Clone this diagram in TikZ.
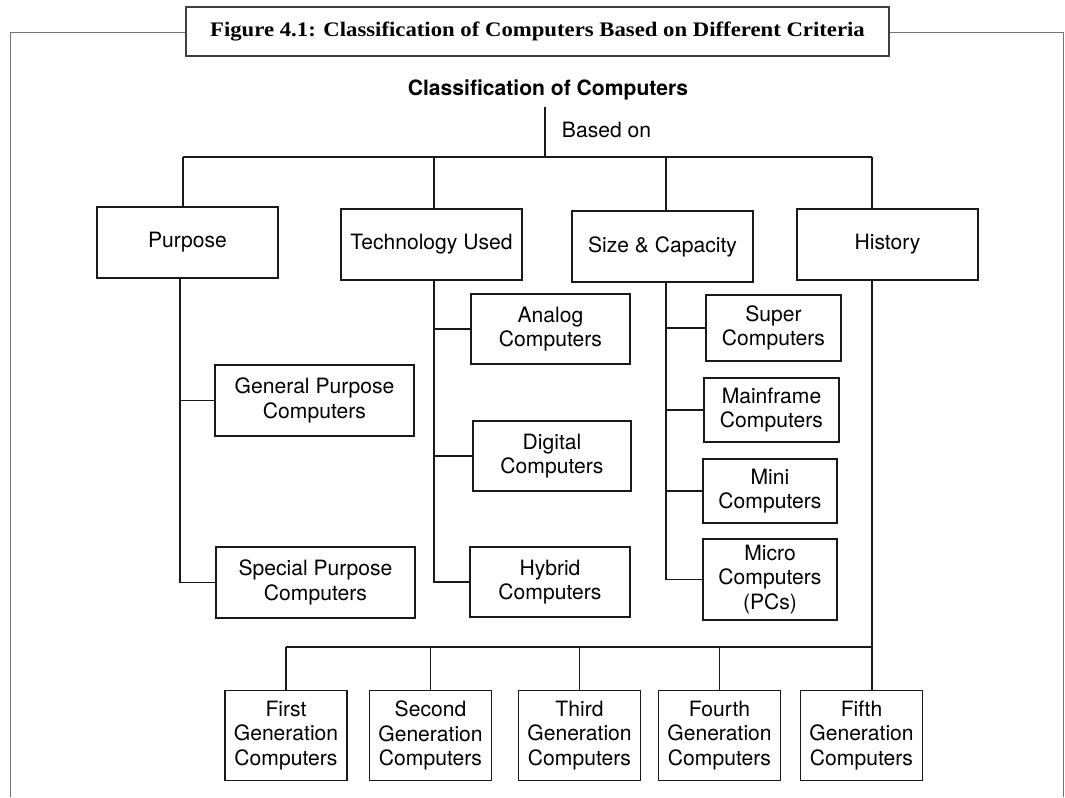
\documentclass[tikz,border=0pt]{standalone}
\usepackage{fontspec}
\setmainfont{TeX Gyre Heros}
\newfontfamily\figfont[FakeStretch=1.1]{Liberation Serif}
\newcommand{\px}{0.025cm}

\begin{document}
\begin{tikzpicture}[x=\px, y=-\px]
    \tikzstyle{frame} = [draw=black!55, line width=0.6pt]
    \tikzstyle{box} = [draw=black!90, line width=1pt, align=center, inner sep=0pt, font=\fontsize{15}{17.5}\selectfont]
    \tikzstyle{link} = [draw=black!90, line width=1pt]
    \useasboundingbox (0,0) rectangle (1065,797);

    % frame and caption
    \draw[frame] (10,797) -- (10,32) -- (1063,32) -- (1063,797);
    \node[draw=black!75, fill=white, line width=0.8pt, minimum width=703*\px, minimum height=49*\px,
          font=\figfont\bfseries\fontsize{14.7}{17}\selectfont] (caption) at (537.5,31.5)
          {Figure 4.1: Classification of Computers Based on Different Criteria};

    \node[font=\bfseries\fontsize{15}{18}\selectfont] (root) at (548,90) {Classification of Computers};
    \node[anchor=west, font=\fontsize{15}{18}\selectfont] (basedon) at (557,130) {Based on};
    \coordinate (stem) at (545,107);
    \coordinate (hub) at (545,157);

    % criteria
    \node[box, minimum width=181*\px, minimum height=71*\px] (purpose) at (187.5,242.5) {Purpose};
    \node[box, minimum width=181*\px, minimum height=71*\px] (tech) at (431.5,244.5) {Technology Used};
    \node[box, minimum width=181*\px, minimum height=71*\px] (size) at (662.5,246.5) {Size \& Capacity};
    \node[box, minimum width=181*\px, minimum height=71*\px] (hist) at (887.5,244.5) {History};

    % by purpose
    \node[box, minimum width=199*\px, minimum height=71*\px] (general) at (314.5,400.5) {General Purpose\\Computers};
    \node[box, minimum width=199*\px, minimum height=71*\px] (special) at (315.5,582.5) {Special Purpose\\Computers};

    % by technology
    \node[box, minimum width=159*\px, minimum height=70*\px] (analog) at (550.5,329) {Analog\\Computers};
    \node[box, minimum width=158*\px, minimum height=70*\px] (digital) at (552,456) {Digital\\Computers};
    \node[box, minimum width=160*\px, minimum height=70*\px] (hybrid) at (550,582) {Hybrid\\Computers};

    % by size
    \node[box, minimum width=135*\px, minimum height=66*\px] (super) at (773.5,328) {Super\\Computers};
    \node[box, minimum width=135*\px, minimum height=64*\px] (mainframe) at (771.5,410) {Mainframe\\Computers};
    \node[box, minimum width=134*\px, minimum height=64*\px] (mini) at (770,491) {Mini\\Computers};
    \node[box, minimum width=134*\px, minimum height=81*\px] (micro) at (770,579.5) {Micro\\Computers\\(PCs)};

    % by history
    \foreach \n/\x/\t in {first/286/First, second/430.5/Second, third/579.5/Third, fourth/719.5/Fourth, fifth/861.5/Fifth} {
        \node[box, minimum width=122*\px, minimum height=90*\px] (\n) at (\x,735.5) {\t\\Generation\\Computers};
    }

    % top level branches
    \coordinate (b-purpose) at (183,157);
    \coordinate (b-tech) at (434,157);
    \coordinate (b-size) at (666,157);
    \coordinate (b-hist) at (872,157);
    \coordinate (t-purpose) at (180,157);
    \draw[link] (stem) -- (hub);
    \draw[link] (b-purpose) -- (b-hist);
    \foreach \n in {purpose, tech, size, hist}
        \draw[link] (b-\n) -- (b-\n |- \n.north);

    % trunks
    \draw[link] (t-purpose |- purpose.south) -- (t-purpose |- special.west) -- (special.west);
    \draw[link] (t-purpose |- general.west) -- (general.west);
    \draw[link] (b-tech |- tech.south) -- (b-tech |- hybrid.west) -- (hybrid.west);
    \foreach \n in {analog, digital}
        \draw[link] (b-tech |- \n.west) -- (\n.west);
    \draw[link] (b-size |- size.south) -- (b-size |- micro.west) -- (micro.west);
    \foreach \n in {super, mainframe, mini}
        \draw[link] (b-size |- \n.west) -- (\n.west);

    % generations
    \coordinate (g-bar) at (0,647);
    \draw[link] (b-hist |- hist.south) -- (b-hist |- fifth.north);
    \draw[link] (g-bar -| first.north) -- (g-bar -| b-hist);
    \foreach \n in {first, second, third, fourth}
        \draw[link] (g-bar -| \n.north) -- (\n.north);
\end{tikzpicture}
\end{document}
